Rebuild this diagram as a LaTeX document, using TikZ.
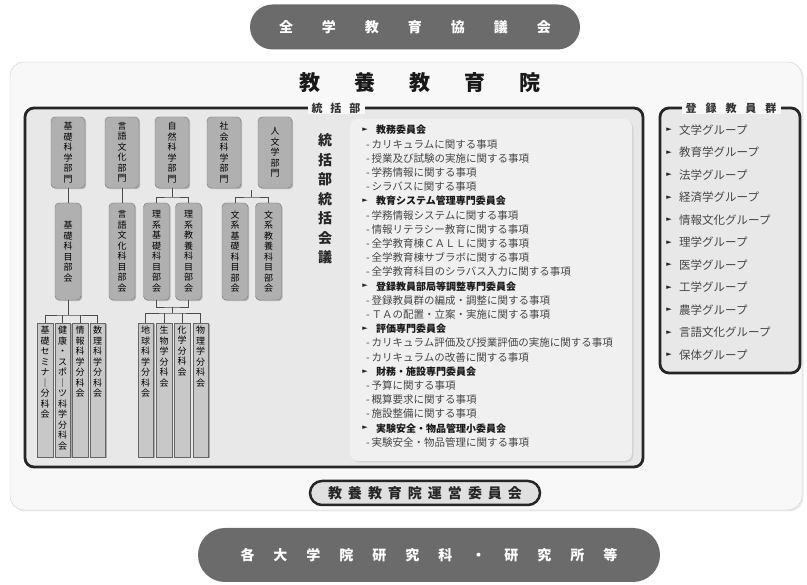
\documentclass[tikz,border=0pt]{standalone}
\usepackage{fontspec}
\setmainfont{Noto Sans CJK JP}
\newfontfamily\dejavu{DejaVu Sans}
\usetikzlibrary{shapes.misc,shadows}
\definecolor{pillgray}{HTML}{6B6B6B}
\definecolor{outerbg}{HTML}{F8F8F8}
\definecolor{boxbg}{HTML}{E8E8E8}
\definecolor{panelbg}{HTML}{F0F0F0}
\definecolor{deptgray}{HTML}{B0B0B0}
\definecolor{narrowgray}{HTML}{C8C8C8}
\definecolor{itemgray}{HTML}{464646}
\makeatletter
\def\vtend{\vtend@x}
\newcommand\vtx[1]{\vt@a#1\vtend}
\def\vt@a#1#2{#1\ifx#2\vtend\expandafter\@gobble\else\expandafter\vt@b\fi{#2}}
\def\vt@b#1{\\\vt@a#1}
\newcommand\ltrsp[2]{\def\ltr@gap{#1}\sp@a#2\vtend}
\def\sp@a#1#2{#1\ifx#2\vtend\expandafter\@gobble\else\expandafter\sp@b\fi{#2}}
\def\sp@b#1{\hspace{\ltr@gap}\sp@a#1}
\makeatother
\newcommand\vfont{\fontsize{9}{10.5}\selectfont}
\begin{document}
\begin{tikzpicture}[x=1pt,y=-1pt,
  pill/.style={rounded rectangle, fill=pillgray, text=white, inner sep=0pt,
    font=\fontsize{14}{14}\selectfont\bfseries},
  frame/.style={line width=2.8pt, draw=black!85, rounded corners=9pt},
  framelab/.style={fill=outerbg, inner xsep=4pt, inner ysep=1pt,
    font=\fontsize{11}{11}\selectfont\bfseries, text=black!80},
  dept/.style={draw=black!55, fill=deptgray, rounded corners=4pt, inner sep=0pt,
    minimum width=34pt, minimum height=71pt, align=center, font=\vfont, text=black,
    drop shadow={shadow xshift=1.2pt, shadow yshift=-1.2pt, opacity=.45}},
  subbox/.style={dept, minimum width=26pt, minimum height=97pt},
  narrow/.style={draw=black!60, fill=narrowgray, inner sep=0pt,
    minimum width=15.5pt, minimum height=134pt,
    drop shadow={shadow xshift=1.4pt, shadow yshift=-1.4pt, opacity=.6}},
  vlab/.style={align=center, font=\vfont, inner sep=0pt, text=black},
  conn/.style={draw=black!70, line width=0.8pt},
  hdr/.style={anchor=west, inner sep=0pt, font=\fontsize{10}{10}\selectfont\bfseries, text=black!90},
  itm/.style={anchor=west, inner sep=0pt, font=\fontsize{10.5}{10.5}\selectfont, text=itemgray},
  bul/.style={inner sep=0pt, font=\dejavu\fontsize{7}{7}\selectfont, text=black!85},
  grp/.style={anchor=west, inner sep=0pt, font=\fontsize{11.5}{11.5}\selectfont, text=itemgray}
]
\useasboundingbox (0,0) rectangle (807,585);
\fill[white] (0,0) rectangle (807,585);

% top pill
\node[pill, minimum width=330pt, minimum height=45pt] (zengaku) at (415,27) {\ltrsp{29pt}{全学教育協議会}};

% outer institute frame
\path[draw=black!20, fill=outerbg, rounded corners=14pt,
  drop shadow={shadow xshift=1.5pt, shadow yshift=-1.5pt, opacity=.15}] (10,62) rectangle (802,510);
\node[font=\fontsize{21}{21}\selectfont\bfseries, text=black!90] (title) at (420,83) {\ltrsp{34pt}{教養教育院}};

% 統括部 frame
\path[frame, fill=boxbg] (25,108) rectangle (643,467);
\node[framelab] (tokatsu) at (336,108) {\ltrsp{8pt}{統括部}};
\path[fill=panelbg, rounded corners=8pt,
  drop shadow={shadow xshift=1.5pt, shadow yshift=-1.5pt, opacity=.2}] (350,119) rectangle (632,461);

% 登録教員群 frame
\path[frame, fill=boxbg] (660,108) rectangle (800,373);
\node[framelab] (toroku) at (731,108) {\ltrsp{9pt}{登録教員群}};

% vertical council title
\node[align=center, inner sep=0pt, font=\fontsize{14}{19.5}\selectfont\bfseries, text=black!85]
  (kaigi) at (325,199) {\vtx{統括部統括会議}};

% departments
\node[dept] (t1) at (68,152.5) {\vtx{基礎科学部門}};
\node[dept] (t2) at (122,152.5) {\vtx{言語文化部門}};
\node[dept] (t3) at (172,152.5) {\vtx{自然科学部門}};
\node[dept] (t4) at (224,152.5) {\vtx{社会科学部門}};
\node[dept] (t5) at (275,152.5) {\vtx{人文学部門}};

% committees
\node[subbox] (s1) at (68,251.5) {\vtx{基礎科目部会}};
\node[subbox] (s2) at (122,251.5) {\vtx{言語文化科目部会}};
\node[subbox] (s3a) at (156.5,251.5) {\vtx{理系基礎科目部会}};
\node[subbox] (s3b) at (188.5,251.5) {\vtx{理系教養科目部会}};
\node[subbox] (s4) at (235,251.5) {\vtx{文系基礎科目部会}};
\node[subbox] (s5) at (268.5,251.5) {\vtx{文系教養科目部会}};

% connectors top -> committees
\draw[conn] (t1.south) -- (s1.north);
\draw[conn] (t2.south) -- (s2.north);
\coordinate (j3) at (172,197);
\draw[conn] (t3.south) -- (j3);
\draw[conn] (s3a.north) |- (j3) -| (s3b.north);
\coordinate (j45a) at (251.75,190);
\coordinate (j45b) at (251.75,197);
\draw[conn] (j45a) -- (j45b);
\draw[conn] (s4.north) |- (j45b) -| (s5.north);

% sub-committees (left group)
\node[narrow] (b11) at (45,390) {};
\node[narrow] (b12) at (62.5,390) {};
\node[narrow] (b13) at (80,390) {};
\node[narrow] (b14) at (97.5,390) {};
\node[vlab, below=3pt] (b11t) at (b11.north) {\vtx{基礎セミナ｜分科会}};
\node[vlab, below=3pt] (b12t) at (b12.north) {\vtx{健康・スポ｜ツ科学分科会}};
\node[vlab, below=3pt] (b13t) at (b13.north) {\vtx{情報科学分科会}};
\node[vlab, below=3pt] (b14t) at (b14.north) {\vtx{数理科学分科会}};
\coordinate (jl) at (68,315);
\draw[conn] (s1.south) -- (jl);
\draw[conn] (b11.north) |- (jl) -| (b14.north);
\draw[conn] (b12.north) -- (b12.north |- jl);
\draw[conn] (b13.north) -- (b13.north |- jl);

% sub-committees (right group)
\node[narrow] (b21) at (145.5,390) {};
\node[narrow] (b22) at (164,390) {};
\node[narrow] (b23) at (182,390) {};
\node[narrow] (b24) at (200.5,390) {};
\node[vlab, below=3pt] (b21t) at (b21.north) {\vtx{地球科学分科会}};
\node[vlab, below=3pt] (b22t) at (b22.north) {\vtx{生物学分科会}};
\node[vlab, below=3pt] (b23t) at (b23.north) {\vtx{化学分科会}};
\node[vlab, below=3pt] (b24t) at (b24.north) {\vtx{物理学分科会}};
\coordinate (jr1) at (172.5,307);
\coordinate (jr2) at (172.5,313);
\draw[conn] (s3a.south) |- (jr1) -| (s3b.south);
\draw[conn] (jr1) -- (jr2);
\draw[conn] (b21.north) |- (jr2) -| (b24.north);
\draw[conn] (b22.north) -- (b22.north |- jr2);
\draw[conn] (b23.north) -- (b23.north |- jr2);

% committee list
\node[bul] (m0) at (365,130) {►};
\node[hdr] (l0) at (376,130) {教務委員会};
\node[itm] (l1) at (366,144.2) {-\,カリキュラムに関する事項};
\node[itm] (l2) at (366,158.4) {-\,授業及び試験の実施に関する事項};
\node[itm] (l3) at (366,172.6) {-\,学務情報に関する事項};
\node[itm] (l4) at (366,186.8) {-\,シラバスに関する事項};
\node[bul] (m5) at (365,201) {►};
\node[hdr] (l5) at (376,201) {教育システム管理専門委員会};
\node[itm] (l6) at (366,215.2) {-\,学務情報システムに関する事項};
\node[itm] (l7) at (366,229.4) {-\,情報リテラシー教育に関する事項};
\node[itm] (l8) at (366,243.6) {-\,全学教育棟ＣＡＬＬに関する事項};
\node[itm] (l9) at (366,257.8) {-\,全学教育棟サブラボに関する事項};
\node[itm] (l10) at (366,272) {-\,全学教育科目のシラバス入力に関する事項};
\node[bul] (m11) at (365,286.2) {►};
\node[hdr] (l11) at (376,286.2) {登録教員部局等調整専門委員会};
\node[itm] (l12) at (366,300.4) {-\,登録教員群の編成・調整に関する事項};
\node[itm] (l13) at (366,314.6) {-\,ＴＡの配置・立案・実施に関する事項};
\node[bul] (m14) at (365,328.8) {►};
\node[hdr] (l14) at (376,328.8) {評価専門委員会};
\node[itm] (l15) at (366,343) {-\,カリキュラム評価及び授業評価の実施に関する事項};
\node[itm] (l16) at (366,357.2) {-\,カリキュラムの改善に関する事項};
\node[bul] (m17) at (365,371.4) {►};
\node[hdr] (l17) at (376,371.4) {財務・施設専門委員会};
\node[itm] (l18) at (366,385.6) {-\,予算に関する事項};
\node[itm] (l19) at (366,399.8) {-\,概算要求に関する事項};
\node[itm] (l20) at (366,414) {-\,施設整備に関する事項};
\node[bul] (m21) at (365,428.2) {►};
\node[hdr] (l21) at (376,428.2) {実験安全・物品管理小委員会};
\node[itm] (l22) at (366,442.4) {-\,実験安全・物品管理に関する事項};

% registered faculty groups
\foreach \t [count=\i from 0] in {文学グループ,教育学グループ,法学グループ,経済学グループ,情報文化グループ,理学グループ,医学グループ,工学グループ,農学グループ,言語文化グループ,保体グループ}{
  \node[bul] (gm\i) at (669,130+22.5*\i) {►};
  \node[grp] (g\i) at (679,130+22.5*\i) {\t};
}

% operating committee pill
\node[rounded rectangle, draw=black!85, line width=2.5pt, fill=black!12, inner sep=0pt,
  minimum width=230pt, minimum height=24pt, font=\fontsize{14}{14}\selectfont\bfseries, text=black!85]
  (unei) at (425,493) {\ltrsp{6pt}{教養教育院運営委員会}};

% bottom pill
\node[pill, minimum width=462pt, minimum height=54pt] (kenkyuka) at (429,555) {\ltrsp{19pt}{各大学院研究科・研究所等}};
\end{tikzpicture}
\end{document}
